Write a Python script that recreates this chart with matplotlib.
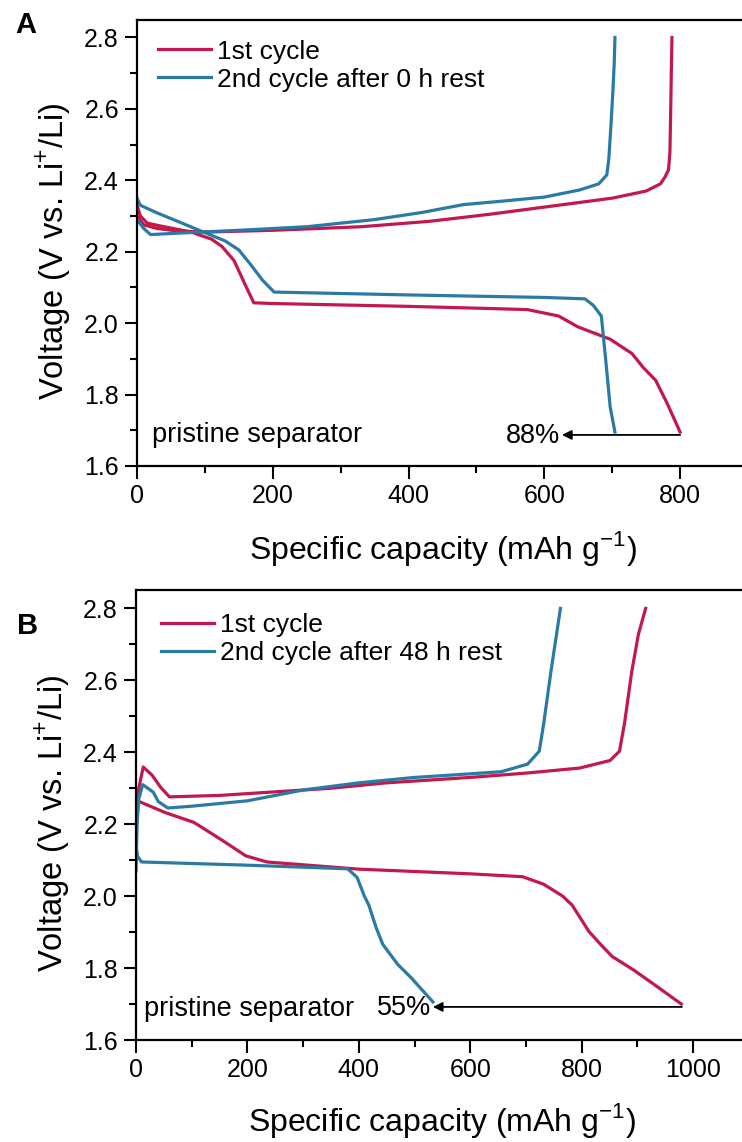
import numpy as np
import matplotlib
matplotlib.use("Agg")
import matplotlib.pyplot as plt
from matplotlib.ticker import MultipleLocator

plt.rcParams["font.family"] = ["Liberation Sans", "DejaVu Sans"]

RED = "#c2184b"
BLUE = "#2b7aa5"

# ---- panel A: pristine separator, 0 h rest ----
a1_dis_x = [0, 5, 15, 40, 80, 110, 125, 143, 160, 172, 200, 300, 400, 500, 575, 621, 649, 697, 729, 746, 764, 781, 800]
a1_dis_v = [2.33, 2.30, 2.28, 2.27, 2.255, 2.235, 2.215, 2.175, 2.105, 2.057, 2.055, 2.051, 2.047, 2.042, 2.038, 2.02, 1.99, 1.955, 1.915, 1.875, 1.84, 1.775, 1.695]
a1_chg_x = [0, 10, 30, 60, 100, 200, 330, 430, 520, 600, 700, 750, 771, 778, 783, 785, 786, 787, 788]
a1_chg_v = [2.30, 2.275, 2.265, 2.258, 2.255, 2.26, 2.27, 2.285, 2.305, 2.325, 2.35, 2.37, 2.39, 2.41, 2.43, 2.48, 2.58, 2.70, 2.80]
a2_dis_x = [0, 5, 28, 60, 98, 130, 150, 167, 185, 202, 400, 600, 660, 672, 684, 690, 697, 704]
a2_dis_v = [2.35, 2.33, 2.31, 2.285, 2.255, 2.23, 2.205, 2.165, 2.12, 2.087, 2.079, 2.072, 2.068, 2.05, 2.02, 1.905, 1.765, 1.695]
a2_chg_x = [0, 10, 20, 60, 150, 250, 350, 420, 481, 540, 600, 652, 680, 692, 695, 698, 701, 703, 704]
a2_chg_v = [2.29, 2.265, 2.248, 2.252, 2.26, 2.27, 2.29, 2.31, 2.332, 2.342, 2.353, 2.373, 2.39, 2.415, 2.46, 2.55, 2.65, 2.73, 2.80]

# ---- panel B: pristine separator, 48 h rest ----
b1_dis_x = [0, 7, 53, 104, 155, 197, 235, 400, 600, 694, 732, 766, 783, 813, 834, 855, 894, 936, 979]
b1_dis_v = [2.27, 2.262, 2.232, 2.205, 2.155, 2.112, 2.095, 2.075, 2.062, 2.054, 2.033, 2.0, 1.975, 1.902, 1.866, 1.832, 1.794, 1.748, 1.70]
b1_chg_x = [0, 5, 13, 29, 44, 60, 150, 250, 350, 450, 600, 700, 796, 851, 868, 877, 890, 902, 915]
b1_chg_v = [2.22, 2.30, 2.359, 2.336, 2.303, 2.276, 2.28, 2.29, 2.30, 2.315, 2.33, 2.342, 2.356, 2.377, 2.403, 2.48, 2.624, 2.728, 2.80]
b2_dis_x = [0, 3, 10, 200, 380, 397, 410, 418, 431, 443, 470, 494, 533]
b2_dis_v = [2.14, 2.11, 2.095, 2.086, 2.076, 2.052, 2.0, 1.975, 1.913, 1.866, 1.81, 1.773, 1.706]
b2_chg_x = [0, 2, 5, 12, 31, 40, 57, 100, 200, 300, 400, 500, 600, 656, 703, 724, 732, 745, 762]
b2_chg_v = [2.07, 2.20, 2.27, 2.31, 2.289, 2.263, 2.245, 2.25, 2.265, 2.295, 2.315, 2.33, 2.34, 2.346, 2.367, 2.403, 2.48, 2.625, 2.80]

labels_a = ["1st cycle", "2nd cycle after 0 h rest"]
labels_b = ["1st cycle", "2nd cycle after 48 h rest"]

W, H = 742, 1142
fig = plt.figure(figsize=(W / 100, H / 100), dpi=100)

ax_a = fig.add_axes([137 / W, 1 - 466 / H, 611 / W, 446.4 / H])
ax_b = fig.add_axes([136 / W, 1 - 1040 / H, 612.7 / W, 449.6 / H])


def draw_panel(ax, c1, c2, labels, xmax, retention, arrow, text_x, leg_anchor, xlab_y):
    lw = 2.3
    ax.plot(c1[0], c1[1], color=RED, lw=lw, label=labels[0])
    ax.plot(c1[2], c1[3], color=RED, lw=lw)
    ax.plot(c2[0], c2[1], color=BLUE, lw=lw, label=labels[1])
    ax.plot(c2[2], c2[3], color=BLUE, lw=lw)

    ax.set_xlim(0, xmax)
    ax.set_ylim(1.6, 2.85)
    ax.xaxis.set_minor_locator(MultipleLocator(100))
    ax.yaxis.set_minor_locator(MultipleLocator(0.1))
    ax.set_xticks([t for t in range(0, int(xmax), 200)])
    yt = np.round(np.arange(1.6, 2.81, 0.2), 1)
    ax.set_yticks(yt)
    ax.set_yticklabels([f"{v:.1f}" for v in yt])
    ax.tick_params(which="both", direction="out", width=1.5, labelsize=18,
                   top=False, right=False)
    ax.tick_params(which="major", length=9, pad=4)
    ax.tick_params(which="minor", length=5)
    for s in ax.spines.values():
        s.set_linewidth(1.6)

    ax.set_xlabel("Specific capacity (mAh g$^{\\mathregular{-1}}$)", fontsize=23, va="center")
    ax.set_ylabel("Voltage (V vs. Li$^{\\mathregular{+}}$/Li)", fontsize=23.5, va="center")
    ax.xaxis.set_label_coords(0.5, xlab_y)
    ax.yaxis.set_label_coords(-0.136, 0.482)

    ax.legend(loc="upper left", bbox_to_anchor=leg_anchor, frameon=False,
              fontsize=19, handlelength=2.0, handletextpad=0.25,
              labelspacing=0.15, borderpad=0, borderaxespad=0)

    ax.text(text_x, 1.686, "pristine separator", fontsize=19.5, va="center", ha="left")
    ax.annotate("", xy=(arrow[1], arrow[2]), xytext=(arrow[0], arrow[2]),
                arrowprops=dict(arrowstyle="-|>", color="black", lw=1.3,
                                mutation_scale=14, shrinkA=0, shrinkB=0))
    ax.text(arrow[1] - 3, arrow[2] - 0.004, retention, fontsize=19.5, va="center", ha="right")


draw_panel(ax_a, (a1_dis_x, a1_dis_v, a1_chg_x, a1_chg_v),
           (a2_dis_x, a2_dis_v, a2_chg_x, a2_chg_v),
           labels_a, 900, "88%", (800, 626, 1.687), 22, (0.034, 0.955), -0.185)
draw_panel(ax_b, (b1_dis_x, b1_dis_v, b1_chg_x, b1_chg_v),
           (b2_dis_x, b2_dis_v, b2_chg_x, b2_chg_v),
           labels_b, 1100, "55%", (980, 533, 1.692), 14, (0.041, 0.95), -0.18)

fig.text(25.5 / W, 1 - 25 / H, "A", fontsize=21, fontweight="bold", ha="center", va="center")
fig.text(28 / W, 1 - 626 / H, "B", fontsize=21, fontweight="bold", ha="center", va="center")

fig.savefig("out.png", dpi=100)
